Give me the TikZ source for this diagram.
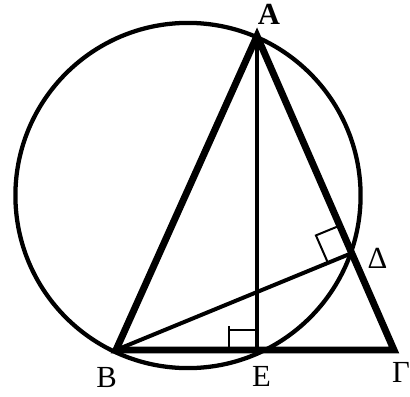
\documentclass[tikz,border=0pt]{standalone}
\usepackage{fontspec}
\setmainfont{Liberation Serif}
\usetikzlibrary{calc}
\begin{document}
\begin{tikzpicture}[x=0.75pt,y=-0.75pt,
  tri/.style={line width=5.2pt,line join=miter,miter limit=10},
  alt/.style={line width=3pt},
  circ/.style={line width=3.2pt},
  rmark/.style={line width=1.5pt},
  lbl/.style={inner sep=0pt,font=\fontsize{23}{25}\selectfont}]
\useasboundingbox (0,0) rectangle (410,396);
\coordinate (A) at (257,36);
\coordinate (B) at (116,350);
\coordinate (G) at (394,350);
\coordinate (E) at (257,350);
\coordinate (D) at (352,253);
\coordinate (O) at (188,195.5);
\draw[circ] (O) circle[radius=129.45pt];
\draw[alt] (A) -- (E);
\draw[alt] (B) -- (D);
\draw[tri] (A) -- (B) -- (G) -- cycle;
% right angle at E
\draw[rmark] ($(E)+(-28,0)$) -- ($(E)+(-28,-24)$);
\draw[rmark] ($(E)+(-28,-20)$) -- ($(E)+(0,-20)$);
% right angle at Delta
\coordinate (u) at ($(D)!30pt*0.75!(A)$);
\coordinate (v) at ($(D)!26pt*0.75!(B)$);
\draw[rmark] (u) -- ($(u)+(v)-(D)$) -- (v);
\node[lbl,font=\fontsize{23}{25}\selectfont\bfseries] (lA) at (269,14.5) {A};
\node[lbl] (lB) at (106.5,377.5) {B};
\node[lbl] (lE) at (261.5,376.5) {E};
\node[lbl] (lG) at (401,372) {Γ};
\node[lbl] (lD) at (377.5,258.5) {Δ};
\end{tikzpicture}
\end{document}
